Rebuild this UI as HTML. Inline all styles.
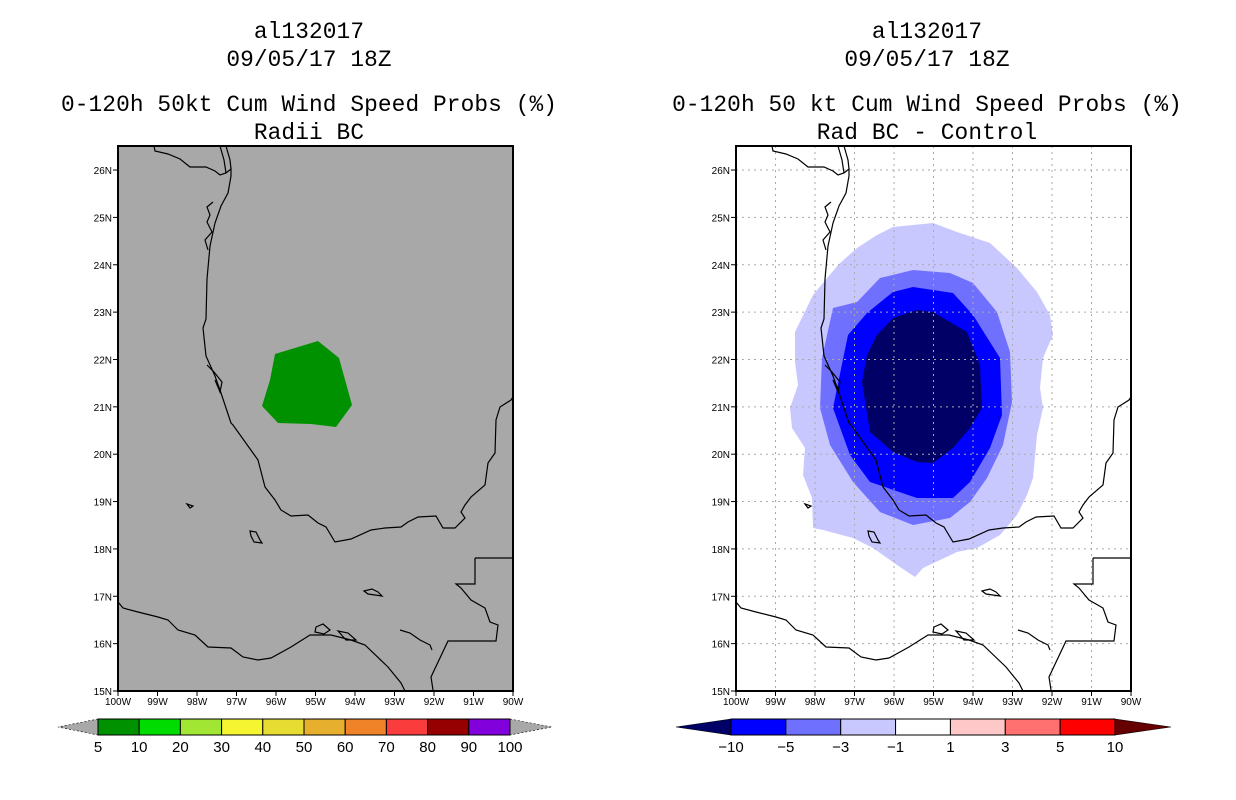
<!DOCTYPE html>
<html><head><meta charset="utf-8"><style>
html,body{margin:0;padding:0;background:#fff;}
svg{display:block;}
.t{font-family:"Liberation Mono","DejaVu Sans Mono",monospace;font-size:22.8px;letter-spacing:0.1px;fill:#000;text-anchor:middle;}
.tk{font-family:"Liberation Sans",sans-serif;font-size:10px;fill:#000;}
.cb{font-family:"Liberation Sans",sans-serif;font-size:15px;fill:#000;text-anchor:middle;}
.c{fill:none;stroke:#000;stroke-width:1.2;}
</style></head><body>
<svg width="1236" height="800" viewBox="0 0 1236 800">
<defs>
<g id="coast">
<polyline class="c" points="154,146 155,151 168,154 180,159 190,167 206,167 215,171 220,175 226,173 231,169 231,176 228,193 221,206 215,223 210,246 207,279 206,319 203,328 206,356 215,376 221,393 231,423 233,425 258,460 265,487 275,500 281,510 291,516 308,515 318,523 326,527 335,542 351,539 371,530 385,528 401,527 408,522 418,517 436,516 443,528 455,528 465,518 461,512 465,505 471,497 485,485 488,463 495,453 496,420 500,407 511,400 513,397"/>
<polyline class="c" points="220,146 224,160 226,173"/>
<polyline class="c" points="226,146 230,160 231,169"/>
<polyline class="c" points="213,202 207,207 210,215 207,222 212,232 205,240 208,250"/>
<polyline class="c" points="207,365 214,372 222,382 220,392 215,380"/>
<polyline class="c" points="118,602 123,608 138,612 158,617 168,620 178,630 195,635 208,647 231,648 243,657 258,660 271,658 291,647 310,635 331,635 351,640 365,645 388,667 401,683 405,691"/>
<polyline class="c" points="475,558 513,558"/>
<polyline class="c" points="475,558 475,584 456,584 461,588 471,600 485,608 490,622 498,625 496,641 448,641 431,677 433,690"/>
<polygon class="c" points="187,504 193,506 190,508"/>
<polygon class="c" points="250,531 256,532 260,540 262,543 254,542 251,536"/>
<polygon class="c" points="364,591 372,589 378,592 382,596 368,594"/>
<polygon class="c" points="316,627 323,624 330,630 324,634 315,632"/>
<polygon class="c" points="338,631 348,633 356,640 346,640"/>
<polyline class="c" points="400,630 410,633 420,640 430,645 432,650"/>
</g>
</defs>

<g>
<text class="t" x="309" y="38">al132017</text>
<text class="t" x="309" y="66">09/05/17 18Z</text>
<text class="t" x="309" y="111">0-120h 50kt Cum Wind Speed Probs (%)</text>
<text class="t" x="309" y="139">Radii BC</text>
<rect x="118" y="146" width="395" height="545" fill="#a8a8a8"/>
<polygon fill="#009100" points="318,341 339,358 352,405 336,427 311,424 278,423 262,406 270,380 275,354"/>
<use href="#coast"/>
<rect x="118" y="146" width="395" height="545" fill="none" stroke="#000" stroke-width="2"/>
<g id="ticksL"></g>
<g id="cbL"></g>
</g>

<g>
<text class="t" x="927" y="38">al132017</text>
<text class="t" x="927" y="66">09/05/17 18Z</text>
<text class="t" x="927" y="111">0-120h 50 kt Cum Wind Speed Probs (%)</text>
<text class="t" x="927" y="139">Rad BC - Control</text>
<rect x="736" y="146" width="395" height="545" fill="#fff"/>
<polygon fill="#c8c8ff" points="893,227 933,223 957,232 990,243 1017,268 1037,292 1050,315 1053,335 1043,358 1040,388 1043,408 1037,435 1033,478 1027,495 1017,515 1000,535 977,548 957,552 923,568 915,577 897,565 873,548 853,538 823,530 813,528 812,498 803,475 805,448 792,428 790,408 798,385 795,362 795,332 813,295 838,265 857,248 877,235"/>
<polygon fill="#7070ff" points="913,270 950,273 973,283 997,312 1010,352 1012,402 1003,445 987,478 970,502 950,518 913,525 880,512 853,482 830,445 820,408 822,358 833,308 857,302 880,278"/>
<polygon fill="#0000ff" points="913,287 953,293 973,315 1000,358 1002,415 990,448 970,482 953,498 917,498 870,482 850,455 833,408 848,335 867,313 893,292"/>
<polygon fill="#000066" points="917,310 933,312 967,332 980,365 982,408 970,428 953,448 933,463 917,462 893,452 870,432 862,382 867,355 877,335 893,318"/>
<g id="gridR"></g>
<use href="#coast" transform="translate(618,0)"/>
<rect x="736" y="146" width="395" height="545" fill="none" stroke="#000" stroke-width="2"/>
<g id="ticksR"></g>
<g id="cbR"></g>
</g>
</svg>
<script>
const lonLabels=["100W","99W","98W","97W","96W","95W","94W","93W","92W","91W","90W"];
const latLabels=["15N","16N","17N","18N","19N","20N","21N","22N","23N","24N","25N","26N"];
const probColors=["#009100","#00dc00","#a0e632","#f5f532","#e6dc32","#e6af2d","#f08228","#fa3c3c","#960000","#8200dc"];
const probLevels=["5","10","20","30","40","50","60","70","80","90","100"];
const diffColors=["#0000ff","#7070ff","#c8c8ff","#ffffff","#ffc8c8","#ff7070","#ff0000"];
const diffLevels=["-10","-5","-3","-1","1","3","5","10"];
const NS="http://www.w3.org/2000/svg";
function mk(tag,attrs,parent){const e=document.createElementNS(NS,tag);for(const k in attrs)e.setAttribute(k,attrs[k]);parent.appendChild(e);return e;}
const pxDeg=39.5, pyDeg=47.36;
function xOf(x0,i){return x0+i*pxDeg;}
function yOf(i){return 691-i*pyDeg;}
function axes(gid,x0){
  const g=document.getElementById(gid);
  lonLabels.forEach((l,i)=>{const x=xOf(x0,i);
    mk('line',{x1:x,x2:x,y1:691,y2:696,stroke:'#000'},g);
    const t=mk('text',{x:x,y:705,'text-anchor':'middle',class:'tk'},g);t.textContent=l;
    
    });
  latLabels.forEach((l,i)=>{const y=yOf(i);
    mk('line',{x1:x0-5,x2:x0,y1:y,y2:y,stroke:'#000'},g);
    const t=mk('text',{x:x0-6,y:y+4,'text-anchor':'end',class:'tk'},g);t.textContent=l;
    
    });
}
axes('ticksL',118);axes('ticksR',736);
(function(){const g=document.getElementById('gridR');
  for(let i=1;i<lonLabels.length-1;i++){const x=xOf(736,i);mk('line',{x1:x,x2:x,y1:146,y2:691,stroke:'#aaa','stroke-dasharray':'2,4'},g);}
  for(let i=1;i<latLabels.length;i++){const y=yOf(i);mk('line',{x1:736,x2:1131,y1:y,y2:y,stroke:'#aaa','stroke-dasharray':'2,4'},g);}
})();
function colorbar(gid,x0,x1,triL,triR,colors,levels,leftTri,rightTri){
  const g=document.getElementById(gid);const w=(x1-x0)/colors.length;const y0=719,y1=735;
  mk('polygon',{points:`${x0},${y0} ${triL},${(y0+y1)/2} ${x0},${y1}`,fill:leftTri,stroke:'#000','stroke-width':0.6,'stroke-dasharray':leftTri=='#a8a8a8'?'2,2':'none'},g);
  mk('polygon',{points:`${x1},${y0} ${triR},${(y0+y1)/2} ${x1},${y1}`,fill:rightTri,stroke:'#000','stroke-width':0.6,'stroke-dasharray':rightTri=='#a8a8a8'?'2,2':'none'},g);
  colors.forEach((c,i)=>{const r=mk('rect',{x:x0+i*w,y:y0,width:w,height:y1-y0,fill:c,stroke:'#000','stroke-width':1},g);
    
    });
  levels.forEach((l,i)=>{const t=mk('text',{x:x0+i*w,y:752,class:'cb'},g);t.textContent=l.replace('-','\u2212');
    
    });
}
colorbar('cbL',98,510,58,552,probColors,probLevels,'#a8a8a8','#a8a8a8');
colorbar('cbR',731,1115,676,1171,diffColors,diffLevels,'#000066','#660000');
</script>
</body></html>
